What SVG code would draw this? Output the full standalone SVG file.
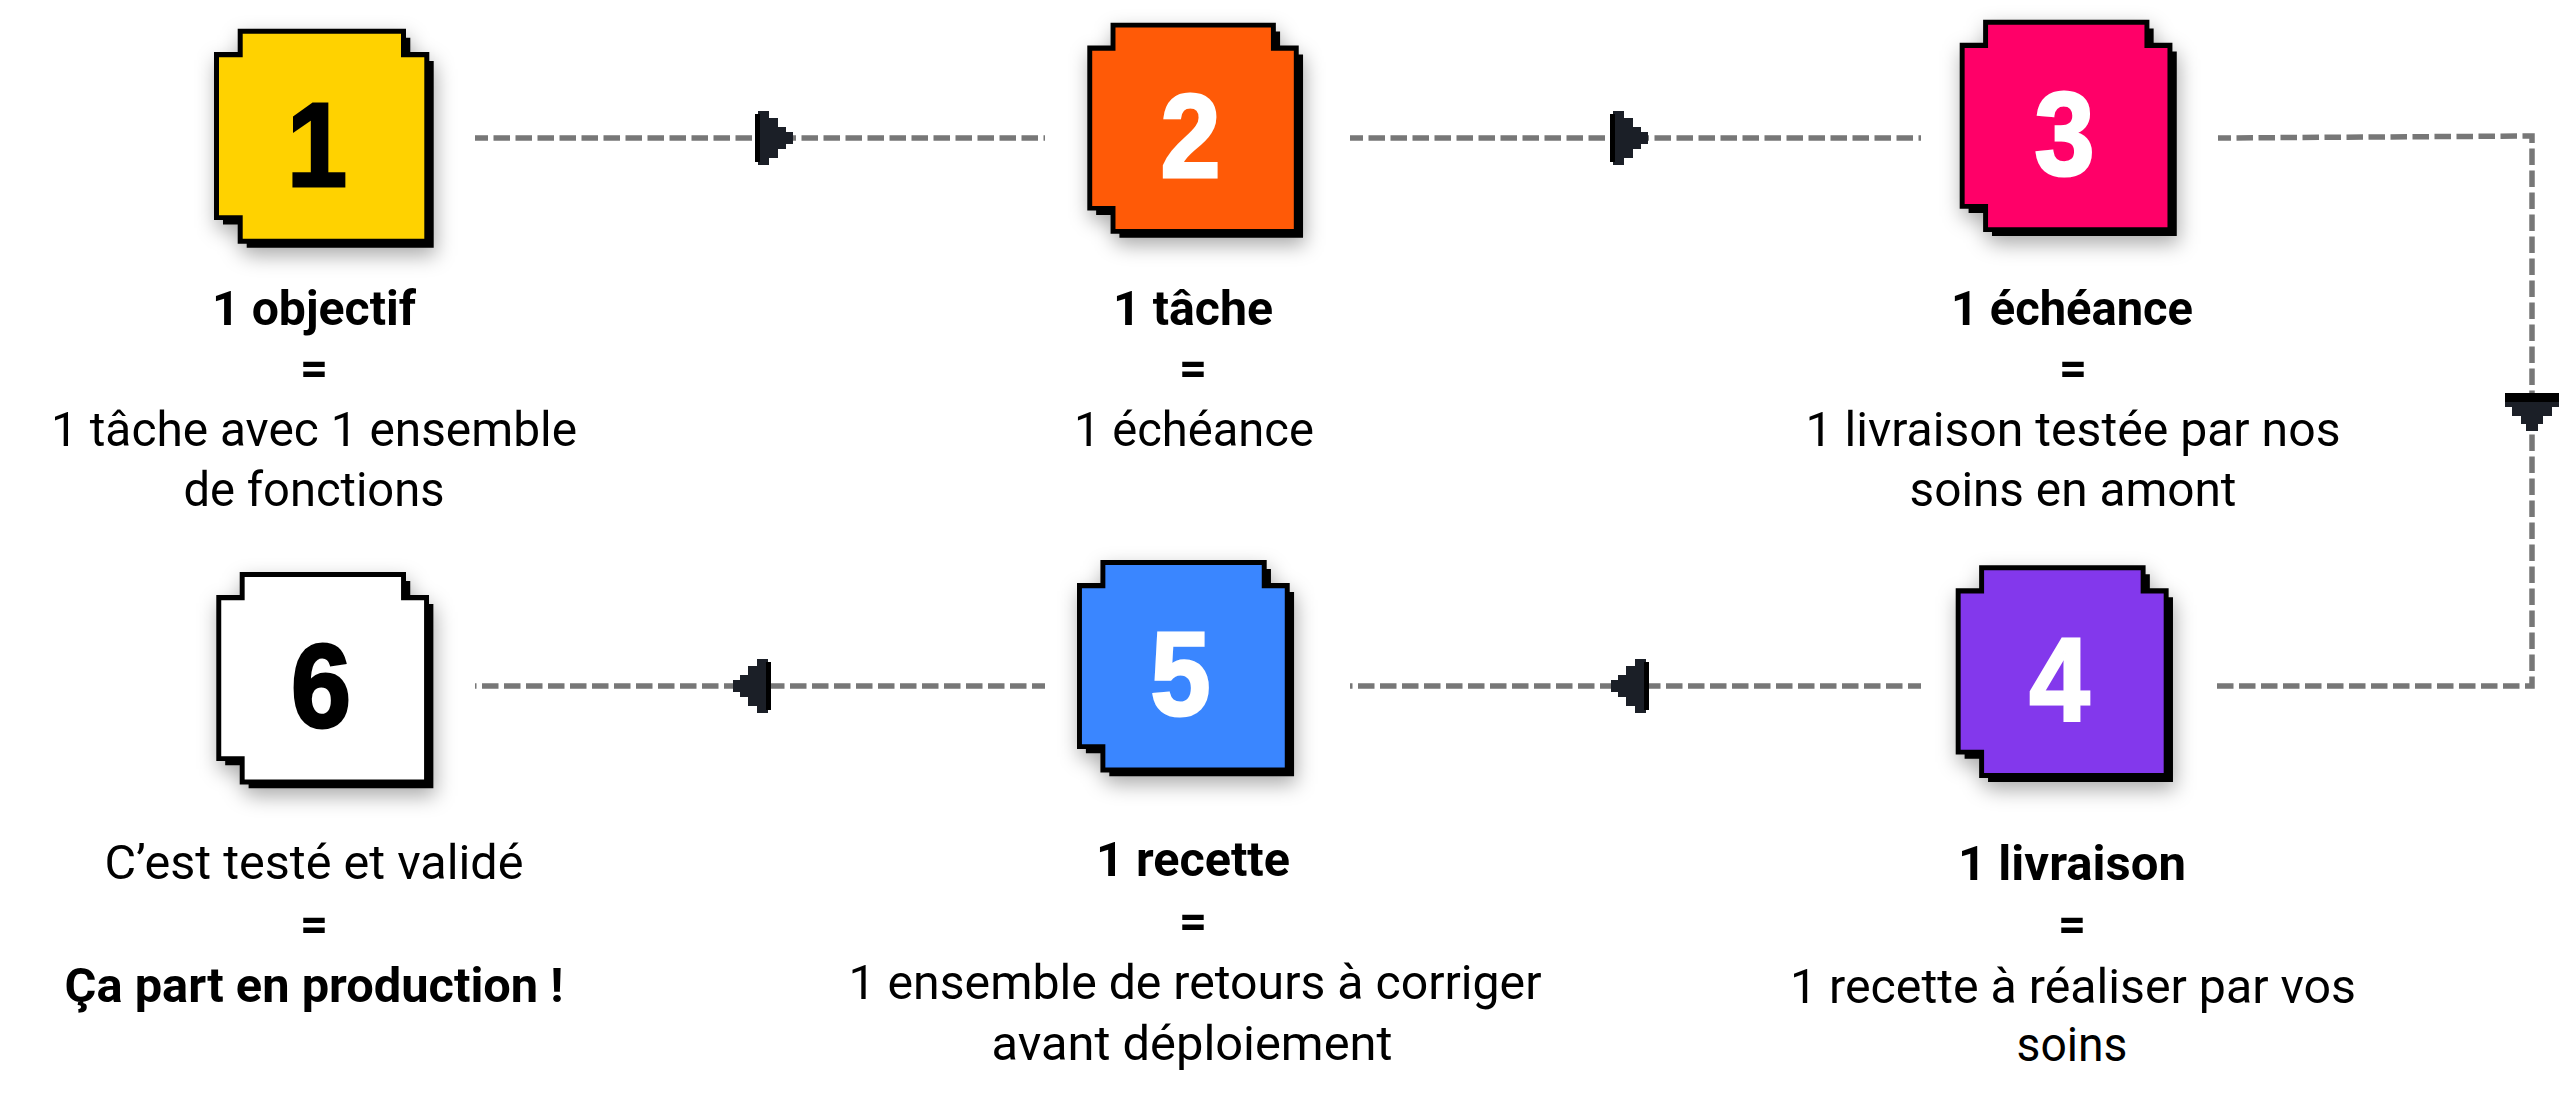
<svg xmlns="http://www.w3.org/2000/svg" width="2560" height="1113" viewBox="0 0 2560 1113">
<style>
text{font-family:Roboto,"Liberation Sans",sans-serif;font-size:49px;fill:#000;text-anchor:middle}
.b{font-weight:700}
.d{font-family:"Liberation Sans",Arial,sans-serif;font-weight:700;font-size:118px;stroke-width:3px;stroke-linejoin:miter}
.w{fill:#fff;stroke:#fff}.k{fill:#000;stroke:#000}
.dash{fill:none;stroke:#777;stroke-width:5.5;stroke-dasharray:16.5 5.5;stroke-dashoffset:3.5}
</style>
<defs>
<filter id="soft" x="-20%" y="-20%" width="140%" height="140%"><feGaussianBlur stdDeviation="10"/></filter>
<path id="outer" d="M23.7 0H192V9H196.3V23.3H215.3V32.3H219.7V219H32.7V215H23.7V195.7H9V191.3H0V23.3H23.7Z"/>
<path id="inner" d="M28.7 5H187V28.6H210.3V210H28.7V186.6H5V28.6H28.7Z"/>
<g id="box"><use href="#outer" transform="translate(2 8)" fill="#000" fill-opacity=".33" filter="url(#soft)"/><use href="#outer" fill="#000"/></g>
<g id="arrow"><path fill="#1b1f27" d="M3-24V-27H14V-20H23V-11H31V-6H38V6H31V11H23V20H14V27H3V24Z"/><path fill="#000" d="M0-24H5V24H0Z"/></g>
</defs>
<rect width="2560" height="1113" fill="#fff"/>
<g id="connectors">
<path class="dash" d="M475 138H1045"/>
<path class="dash" d="M1350 138H1921"/>
<path class="dash" d="M2218 138L2532 136V686H2212"/>
<path class="dash" d="M1921 686H1350"/>
<path class="dash" d="M1045 686H475"/>
<use href="#arrow" transform="translate(755 138)"/>
<use href="#arrow" transform="translate(1610 138)"/>
<use href="#arrow" transform="translate(2532 393) rotate(90)"/>
<rect x="2505" y="393" width="54" height="9" fill="#000"/>
<use href="#arrow" transform="translate(1649 686) rotate(180)"/>
<use href="#arrow" transform="translate(771 686) rotate(180)"/>
</g>
<g id="node-1">
<g transform="translate(214 28.7)"><use href="#box"/><use href="#inner" fill="#FFD200"/></g>
<text class="d k" x="317" y="186" textLength="60" lengthAdjust="spacingAndGlyphs">1</text>
<text class="b" x="314" y="325" textLength="204" lengthAdjust="spacingAndGlyphs">1 objectif</text>
<text class="b" x="314" y="385">=</text>
<text x="314" y="446" textLength="526" lengthAdjust="spacingAndGlyphs">1 tâche avec 1 ensemble</text>
<text x="314" y="506" textLength="261" lengthAdjust="spacingAndGlyphs">de fonctions</text>
</g>
<g id="node-2">
<g transform="translate(1087.3 22.7) scale(.982)"><use href="#box"/><use href="#inner" fill="#FF5A07"/></g>
<text class="d w" x="1190.5" y="177" textLength="60" lengthAdjust="spacingAndGlyphs">2</text>
<text class="b" x="1193" y="325" textLength="160" lengthAdjust="spacingAndGlyphs">1 tâche</text>
<text class="b" x="1193" y="385">=</text>
<text x="1194" y="446" textLength="240" lengthAdjust="spacingAndGlyphs">1 échéance</text>
</g>
<g id="node-3">
<g transform="translate(1959.7 19.7) scale(.988)"><use href="#box"/><use href="#inner" fill="#FF0068"/></g>
<text class="d w" x="2064.5" y="175" textLength="60" lengthAdjust="spacingAndGlyphs">3</text>
<text class="b" x="2072" y="325" textLength="242" lengthAdjust="spacingAndGlyphs">1 échéance</text>
<text class="b" x="2073" y="385">=</text>
<text x="2073" y="446" textLength="535" lengthAdjust="spacingAndGlyphs">1 livraison testée par nos</text>
<text x="2073" y="506" textLength="327" lengthAdjust="spacingAndGlyphs">soins en amont</text>
</g>
<g id="node-4">
<g transform="translate(1955.7 565.3) scale(.989)"><use href="#box"/><use href="#inner" fill="#8338EC"/></g>
<text class="d w" x="2059.5" y="721" textLength="60" lengthAdjust="spacingAndGlyphs">4</text>
<text class="b" x="2072" y="880" textLength="228" lengthAdjust="spacingAndGlyphs">1 livraison</text>
<text class="b" x="2072" y="941">=</text>
<text x="2073" y="1003" textLength="566" lengthAdjust="spacingAndGlyphs">1 recette à réaliser par vos</text>
<text x="2072" y="1061" textLength="111" lengthAdjust="spacingAndGlyphs">soins</text>
</g>
<g id="node-5">
<g transform="translate(1077 560) scale(.988)"><use href="#box"/><use href="#inner" fill="#3A86FF"/></g>
<text class="d w" x="1180.5" y="715" textLength="60" lengthAdjust="spacingAndGlyphs">5</text>
<text class="b" x="1193" y="876" textLength="194" lengthAdjust="spacingAndGlyphs">1 recette</text>
<text class="b" x="1193" y="938">=</text>
<text x="1195" y="999" textLength="693" lengthAdjust="spacingAndGlyphs">1 ensemble de retours à corriger</text>
<text x="1192" y="1060" textLength="401" lengthAdjust="spacingAndGlyphs">avant déploiement</text>
</g>
<g id="node-6">
<g transform="translate(216.3 572) scale(.988)"><use href="#box"/><use href="#inner" fill="#fff"/></g>
<text class="d k" x="321" y="727" textLength="60" lengthAdjust="spacingAndGlyphs">6</text>
<text x="314" y="879" textLength="419" lengthAdjust="spacingAndGlyphs">C’est testé et validé</text>
<text class="b" x="314" y="941">=</text>
<text class="b" x="314" y="1002" textLength="499" lengthAdjust="spacingAndGlyphs">Ça part en production !</text>
</g>
</svg>
